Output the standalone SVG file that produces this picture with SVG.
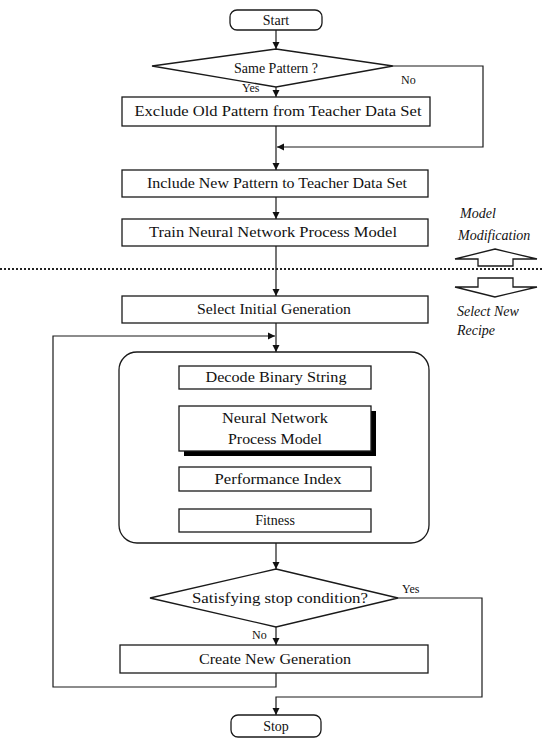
<svg xmlns="http://www.w3.org/2000/svg" width="543" height="739" viewBox="0 0 543 739">
<style>
.box{fill:#fff;stroke:#1a1a1a;stroke-width:1.3}
.ln{fill:none;stroke:#1a1a1a;stroke-width:1.2}
.t{font-family:"Liberation Serif","Times New Roman",serif;font-size:14px;fill:#111;text-anchor:middle}
.s{font-family:"Liberation Serif","Times New Roman",serif;font-size:12px;fill:#111}
.it{font-family:"Liberation Serif","Times New Roman",serif;font-size:14px;font-style:italic;fill:#111}
</style>
<defs>
<marker id="ah" markerWidth="8" markerHeight="8" refX="7" refY="4" orient="auto" markerUnits="userSpaceOnUse">
<path d="M0,0.5 L7,4 L0,7.5 Z" fill="#111"/>
</marker>
</defs>
<rect width="543" height="739" fill="#fff"/>

<g id="connectors">
<path class="ln" d="M276,30 V49" marker-end="url(#ah)"/>
<path class="ln" d="M276,87 V97" marker-end="url(#ah)"/>
<path class="ln" d="M393,66 H483 V147 H277" marker-end="url(#ah)"/>
<path class="ln" d="M276,126 V170" marker-end="url(#ah)"/>
<path class="ln" d="M276,197 V219" marker-end="url(#ah)"/>
<path class="ln" d="M276,246 V296" marker-end="url(#ah)"/>
<path class="ln" d="M276,323 V352" marker-end="url(#ah)"/>
<path class="ln" d="M276,673 V687 H53 V336 H275" marker-end="url(#ah)"/>
<path class="ln" d="M276,389 V406" marker-end="url(#ah)"/>
<path class="ln" d="M276,456 V467" marker-end="url(#ah)"/>
<path class="ln" d="M276,491 V509" marker-end="url(#ah)"/>
<path class="ln" d="M276,543 V569" marker-end="url(#ah)"/>
<path class="ln" d="M276,627 V645" marker-end="url(#ah)"/>
<path class="ln" d="M398,598 H482 V697 H276 V715" marker-end="url(#ah)"/>
<text class="s" x="242" y="92">Yes</text>
<text class="s" x="401" y="84">No</text>
<text class="s" x="402" y="593">Yes</text>
<text class="s" x="252" y="639">No</text>
</g>

<g id="divider">
<line x1="0" y1="269" x2="543" y2="269" stroke="#222" stroke-width="2" stroke-dasharray="2 2"/>
<polygon class="box" points="495,249 537,259 513,259 513,266 478,266 478,259 455,259"/>
<polygon class="box" points="478,278 513,278 513,287 537,287 495,297 455,287 478,287"/>
<text class="it" x="460" y="218">Model</text>
<text class="it" x="458" y="240">Modification</text>
<text class="it" x="457" y="316">Select New</text>
<text class="it" x="457" y="335">Recipe</text>
</g>

<g id="start">
<rect class="box" x="230" y="10" width="92" height="20" rx="7"/>
<text class="t" x="276" y="25">Start</text>
</g>
<g id="same-pattern">
<polygon class="box" points="276,49 393,66 276,87 152,66"/>
<text class="t" x="276" y="73">Same Pattern ?</text>
</g>
<g id="exclude">
<rect class="box" x="122" y="97" width="308" height="29"/>
<text class="t" x="278" y="116" textLength="287" lengthAdjust="spacingAndGlyphs">Exclude Old Pattern from Teacher Data Set</text>
</g>
<g id="include">
<rect class="box" x="122" y="170" width="306" height="27"/>
<text class="t" x="277" y="188" textLength="260" lengthAdjust="spacingAndGlyphs">Include New Pattern to Teacher Data Set</text>
</g>
<g id="train">
<rect class="box" x="122" y="219" width="306" height="27"/>
<text class="t" x="273" y="237" textLength="248" lengthAdjust="spacingAndGlyphs">Train Neural Network Process Model</text>
</g>
<g id="select">
<rect class="box" x="122" y="296" width="306" height="27"/>
<text class="t" x="274" y="314" textLength="154" lengthAdjust="spacingAndGlyphs">Select Initial Generation</text>
</g>
<g id="ga-loop">
<rect class="box" x="119" y="352" width="310" height="191" rx="18" fill="none"/>
</g>
<g id="decode">
<rect class="box" x="179" y="366" width="192" height="23"/>
<text class="t" x="276" y="382" textLength="141" lengthAdjust="spacingAndGlyphs">Decode Binary String</text>
</g>
<g id="nn-model">
<rect x="184" y="411" width="192" height="45" fill="#000"/>
<rect class="box" x="179" y="406" width="192" height="45"/>
<text class="t" x="275" y="423" textLength="106" lengthAdjust="spacingAndGlyphs">Neural Network</text>
<text class="t" x="275" y="444" textLength="94" lengthAdjust="spacingAndGlyphs">Process Model</text>
</g>
<g id="performance">
<rect class="box" x="179" y="467" width="192" height="24"/>
<text class="t" x="278" y="484" textLength="127" lengthAdjust="spacingAndGlyphs">Performance Index</text>
</g>
<g id="fitness">
<rect class="box" x="179" y="509" width="192" height="23"/>
<text class="t" x="275" y="525">Fitness</text>
</g>
<g id="stop-condition">
<polygon class="box" points="276,569 398,598 276,627 150,598"/>
<text class="t" x="280" y="603" textLength="176" lengthAdjust="spacingAndGlyphs">Satisfying stop condition?</text>
</g>
<g id="create">
<rect class="box" x="120" y="645" width="308" height="28"/>
<text class="t" x="275" y="664" textLength="152" lengthAdjust="spacingAndGlyphs">Create New Generation</text>
</g>
<g id="stop">
<rect class="box" x="231" y="715" width="90" height="22" rx="7"/>
<text class="t" x="276" y="731">Stop</text>
</g>
</svg>
